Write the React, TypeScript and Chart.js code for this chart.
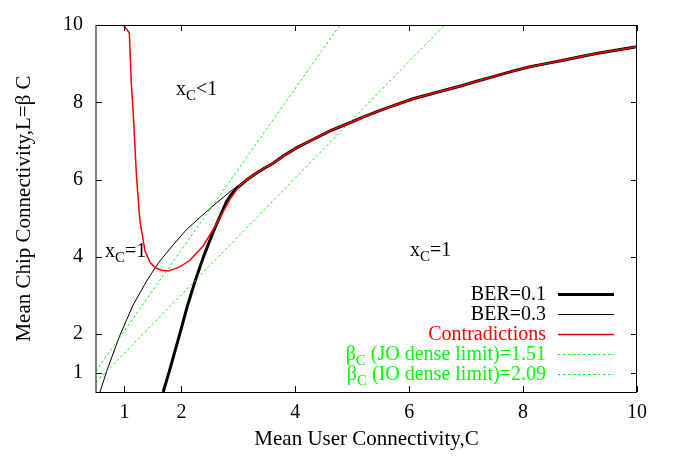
import React, { useEffect, useRef } from "react";
import { Chart, registerables } from "chart.js";

Chart.register(...registerables);

const xTicks = [1, 2, 4, 6, 8, 10];
const yTicks = [1, 2, 4, 6, 8, 10];

// BER = 0.1 (thick black)
const ber01C = [1.68, 1.8, 1.97, 2.1, 2.24, 2.4, 2.56, 2.68, 2.79, 2.88, 2.97, 3.06, 3.14, 3.3, 3.44, 3.61, 3.8, 4.02, 4.3, 4.61, 4.96, 5.2, 5.49, 5.8, 6.07, 6.54, 6.95, 7.2, 7.54, 7.8, 8.12, 8.4, 8.71, 9.0, 9.29, 9.6, 10];
const ber01L = [0.5, 1.1, 2.0, 2.7, 3.37, 4.05, 4.65, 5.05, 5.42, 5.62, 5.77, 5.88, 5.98, 6.15, 6.28, 6.42, 6.62, 6.82, 7.03, 7.26, 7.47, 7.62, 7.79, 7.95, 8.09, 8.28, 8.44, 8.55, 8.69, 8.8, 8.92, 9.0, 9.09, 9.18, 9.26, 9.34, 9.44];

// BER = 0.3 (thin black)
const ber03C = [0.57, 0.69, 0.92, 1.15, 1.4, 1.6, 1.85, 2.1, 2.35, 2.62, 2.85, 3.03, 3.14, 3.3, 3.44, 3.61, 3.8, 4.02, 4.3, 4.61, 4.96, 5.2, 5.49, 5.8, 6.07, 6.54, 6.95, 7.2, 7.54, 7.8, 8.12, 8.4, 8.71, 9.0, 9.29, 9.6, 10];
const ber03L = [0.5, 1.05, 1.97, 2.75, 3.4, 3.85, 4.3, 4.72, 5.05, 5.4, 5.68, 5.88, 5.98, 6.15, 6.28, 6.42, 6.62, 6.82, 7.03, 7.26, 7.47, 7.62, 7.79, 7.95, 8.09, 8.28, 8.44, 8.55, 8.69, 8.8, 8.92, 9.0, 9.09, 9.18, 9.26, 9.34, 9.44];

// Contradictions (red)
const contrC = [0.98, 1.085, 1.12, 1.155, 1.21, 1.27, 1.36, 1.45, 1.54, 1.65, 1.77, 1.97, 2.15, 2.38, 2.62, 2.85, 3.03, 3.14, 3.3, 3.44, 3.61, 3.8, 4.02, 4.3, 4.61, 4.96, 5.2, 5.49, 5.8, 6.07, 6.54, 6.95, 7.2, 7.54, 7.8, 8.12, 8.4, 8.71, 9.0, 9.29, 9.6, 10];
const contrL = [10.0, 9.8, 8.5, 7.7, 6.1, 4.95, 4.15, 3.85, 3.72, 3.65, 3.63, 3.74, 3.91, 4.28, 4.86, 5.48, 5.86, 5.98, 6.15, 6.28, 6.42, 6.62, 6.82, 7.03, 7.26, 7.47, 7.62, 7.79, 7.95, 8.09, 8.28, 8.44, 8.55, 8.69, 8.8, 8.92, 9.0, 9.09, 9.18, 9.26, 9.34, 9.44];

// Dense limits (green dashed)
const joC = [0.5, 10];
const joL = [0.755, 15.1];
const ioC = [0.5, 10];
const ioL = [1.045, 20.9];

const FONT = '"Liberation Serif", "DejaVu Serif", serif';
const FS = 20;
const FT = 21;
const FSUB = 15;
const GREEN = "rgb(0,255,0)";

const pts = (xs: number[], ys: number[]) => xs.map((x, i) => ({ x, y: ys[i] }));

function drawSub(ctx: CanvasRenderingContext2D, parts: { t: string; sub?: boolean }[], x: number, y: number, align: "left" | "right", color: string) {
  const widths = parts.map((p) => {
    ctx.font = `${p.sub ? FSUB : FS}px ${FONT}`;
    return ctx.measureText(p.t).width;
  });
  const total = widths.reduce((a, b) => a + b, 0);
  let cx = align === "left" ? x : x - total;
  ctx.fillStyle = color;
  ctx.textBaseline = "alphabetic";
  ctx.textAlign = "left";
  parts.forEach((p, i) => {
    ctx.font = `${p.sub ? FSUB : FS}px ${FONT}`;
    ctx.fillText(p.t, cx, p.sub ? y + 5 : y);
    cx += widths[i];
  });
}

const decor = {
  id: "decor",
  afterDraw(chart: any) {
    const { ctx, chartArea: a, scales } = chart;
    const xs = scales.x;
    const ys = scales.y;
    ctx.save();
    ctx.strokeStyle = "#000";
    ctx.lineWidth = 1;
    ctx.setLineDash([]);
    ctx.strokeRect(a.left, a.top + 0.5, a.right - a.left - 0.5, a.bottom - a.top);
    const tl = 6;
    ctx.beginPath();
    xTicks.forEach((v) => {
      const px = Math.round(xs.getPixelForValue(v)) + 0.5;
      ctx.moveTo(px, a.bottom);
      ctx.lineTo(px, a.bottom - tl);
      ctx.moveTo(px, a.top);
      ctx.lineTo(px, a.top + tl);
    });
    yTicks.forEach((v) => {
      const py = Math.round(ys.getPixelForValue(v)) + 0.5;
      ctx.moveTo(a.left, py);
      ctx.lineTo(a.left + tl, py);
      ctx.moveTo(a.right, py);
      ctx.lineTo(a.right - tl, py);
    });
    ctx.stroke();

    // region labels
    drawSub(ctx, [{ t: "x" }, { t: "C", sub: true }, { t: "<1" }], 176, 95, "left", "#000");
    drawSub(ctx, [{ t: "x" }, { t: "C", sub: true }, { t: "=1" }], 105, 257, "left", "#000");
    drawSub(ctx, [{ t: "x" }, { t: "C", sub: true }, { t: "=1" }], 410, 256, "left", "#000");

    // legend
    const rows = [
      { parts: [{ t: "BER=0.1" }], color: "#000", lw: 3, dash: [] as number[] },
      { parts: [{ t: "BER=0.3" }], color: "#000", lw: 1, dash: [] as number[] },
      { parts: [{ t: "Contradictions" }], color: "rgb(255,0,0)", lw: 1.5, dash: [] as number[] },
      { parts: [{ t: "β" }, { t: "C", sub: true }, { t: " (JO dense limit)=1.51" }], color: GREEN, lw: 1, dash: [2.5, 2.5] },
      { parts: [{ t: "β" }, { t: "C", sub: true }, { t: " (IO dense limit)=2.09" }], color: GREEN, lw: 1, dash: [2.5, 2.5] },
    ];
    rows.forEach((r, i) => {
      const cy = 294 + i * 20;
      drawSub(ctx, r.parts, 546, cy + 6, "right", r.color);
      ctx.beginPath();
      ctx.strokeStyle = r.color;
      ctx.lineWidth = r.lw;
      ctx.setLineDash(r.dash);
      ctx.moveTo(558, cy + 0.5);
      ctx.lineTo(614, cy + 0.5);
      ctx.stroke();
    });
    ctx.restore();
  },
};

export default function App() {
  const ref = useRef<HTMLCanvasElement | null>(null);
  useEffect(() => {
    if (!ref.current) return;
    const chart = new Chart(ref.current, {
      type: "scatter",
      data: {
        datasets: [
          { label: "BER=0.1", data: pts(ber01C, ber01L), showLine: true, borderColor: "#000", borderWidth: 3, pointRadius: 0, order: 3 },
          { label: "BER=0.3", data: pts(ber03C, ber03L), showLine: true, borderColor: "#000", borderWidth: 1, pointRadius: 0, order: 4 },
          { label: "Contradictions", data: pts(contrC, contrL), showLine: true, borderColor: "rgb(255,0,0)", borderWidth: 1.5, pointRadius: 0, order: 0 },
          { label: "JO", data: pts(joC, joL), showLine: true, borderColor: GREEN, borderWidth: 1, borderDash: [2.5, 2.5], pointRadius: 0, order: 1 },
          { label: "IO", data: pts(ioC, ioL), showLine: true, borderColor: GREEN, borderWidth: 1, borderDash: [2.5, 2.5], pointRadius: 0, order: 2 },
        ],
      },
      options: {
        animation: false,
        responsive: false,
        devicePixelRatio: 1,
        layout: { padding: { top: 10, right: 40, left: 0, bottom: 0 } },
        plugins: { legend: { display: false }, tooltip: { enabled: false } },
        scales: {
          x: {
            type: "linear",
            min: 0.5,
            max: 10,
            grid: { display: false, drawTicks: false },
            border: { display: false },
            afterBuildTicks: (s: any) => { s.ticks = xTicks.map((v) => ({ value: v })); },
            afterFit: (s: any) => { s.height = 68; },
            ticks: { font: { family: FONT, size: FS }, color: "#000", padding: 9, maxRotation: 0, autoSkip: false, callback: (v: any) => String(v) },
            title: { display: true, text: "Mean User Connectivity,C", font: { family: FONT, size: FT }, color: "#000", padding: { top: 0, bottom: 8 } },
          },
          y: {
            type: "linear",
            min: 0.5,
            max: 10,
            grid: { display: false, drawTicks: false },
            border: { display: false },
            afterBuildTicks: (s: any) => { s.ticks = yTicks.map((v) => ({ value: v })); },
            afterFit: (s: any) => { s.width = 96; },
            ticks: { font: { family: FONT, size: FS }, color: "#000", padding: 13, autoSkip: false, callback: (v: any) => String(v) },
            title: { display: true, text: "Mean Chip Connectivity,L=β C", font: { family: FONT, size: FT }, color: "#000", padding: { top: 12, bottom: 0 } },
          },
        },
      },
      plugins: [decor],
    } as any);
    return () => chart.destroy();
  }, []);
  return (
    <div style={{ position: "fixed", left: 0, top: 0, width: 677, height: 460, background: "#fff" }}>
      <canvas ref={ref} width={677} height={460} style={{ display: "block", width: 677, height: 460 }} />
    </div>
  );
}
